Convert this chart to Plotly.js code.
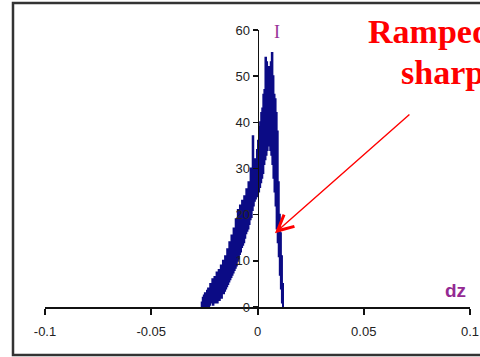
<!DOCTYPE html>
<html>
<head>
<meta charset="utf-8">
<script src="https://cdn.plot.ly/plotly-3.0.1.min.js"></script>
<style>html,body{margin:0;padding:0;background:#fff;}#chart{width:480px;height:357px;}</style>
</head>
<body>
<div id="chart"></div>
<script>
// dz positions of the measured profile
var dz = [
  -0.0265,-0.02625,-0.026,-0.02575,-0.0255,-0.02525,-0.025,-0.02475,-0.0245,-0.02425,
  -0.024,-0.02375,-0.0235,-0.02325,-0.023,-0.02275,-0.0225,-0.02225,-0.022,-0.02175,
  -0.0215,-0.02125,-0.021,-0.02075,-0.0205,-0.02025,-0.020,-0.01975,-0.0195,-0.01925,
  -0.019,-0.01875,-0.0185,-0.01825,-0.018,-0.01775,-0.0175,-0.01725,-0.017,-0.01675,
  -0.0165,-0.01625,-0.016,-0.01575,-0.0155,-0.01525,-0.015,-0.01475,-0.0145,-0.01425,
  -0.014,-0.01375,-0.0135,-0.01325,-0.013,-0.01275,-0.0125,-0.01225,-0.012,-0.01175,
  -0.0115,-0.01125,-0.011,-0.01075,-0.0105,-0.01025,-0.010,-0.00975,-0.0095,-0.00925,
  -0.009,-0.00875,-0.0085,-0.00825,-0.008,-0.00775,-0.0075,-0.00725,-0.007,-0.00675,
  -0.0065,-0.00625,-0.006,-0.00575,-0.0055,-0.00525,-0.005,-0.00475,-0.0045,-0.00425,
  -0.004,-0.00375,-0.0035,-0.00325,-0.003,-0.00275,-0.0025,-0.00225,-0.002,-0.00175,
  -0.0015,-0.00125,-0.001,-0.00075,-0.0005,-0.00025,0,0.00025,0.0005,0.00075,
  0.001,0.00125,0.0015,0.00175,0.002,0.00225,0.0025,0.00275,0.003,0.00325,
  0.0035,0.00375,0.004,0.00425,0.0045,0.00475,0.005,0.00525,0.0055,0.00575,
  0.006,0.00625,0.0065,0.00675,0.007,0.00725,0.0075,0.00775,0.008,0.00825,
  0.0085,0.00875,0.009,0.00925,0.0095,0.00975,0.010,0.01025,0.0105,0.01075,
  0.011,0.01125,0.0115,0.01175,0.012
];
// intensity I at each dz
var intensity = [
  0,1,0,2,0,2.5,0,3,0,2,
  0,3.5,0.5,4,0,3,0.5,5,1,4,
  1,6,0.5,5,1.5,6.5,1,6,1.5,7.5,
  1,7,2,8,1.5,7.5,2.5,9,2,8.5,
  3,10,3,9.5,3.5,11,4,10.5,4.5,12.5,
  5,12,5.5,14,6,13.5,6.5,15.5,7,15,
  7.5,17,8,16.5,8.5,19,9,18,10,21,
  10.5,20,11.5,22,12,21,13,23,13.5,22.5,
  14,24,15,23.5,16,25.5,16.5,25,17,27,
  18,26.5,19,30,19.5,29,21,37,22,31,
  23,32,23.5,31,24,34,24.5,36,25,39,
  26,40,27,42,28,43,29,46,31,47,
  32,54,33,53,34,50,35,52,35,51,
  34,53,33,55,31,50,28,46,25,45,
  22,42,17,38,14,27,11,20,7,16,
  4,11,1,5,0
];

var xTickVals = [-0.1,-0.05,0,0.05,0.1];
var xTickText = ['-0.1','-0.05','0','0.05','0.1'];
var yTickVals = [0,10,20,30,40,50,60];
var yTickText = ['0','10','20','30','40','50','60'];

var trace = {
  x: dz, y: intensity, type: 'scatter', mode: 'lines',
  line: {color: '#0b0b85', width: 2, shape: 'hv'},
  hoverinfo: 'skip', showlegend: false
};

var layout = {
  width: 480, height: 357,
  margin: {l: 45, r: 10, t: 30, b: 50},
  paper_bgcolor: '#ffffff', plot_bgcolor: '#ffffff',
  font: {family: 'Arial, "Liberation Sans", sans-serif', size: 12, color: '#222'},
  xaxis: {
    range: [-0.1, 0.1], showgrid: false, zeroline: false,
    showline: true, linecolor: '#111', linewidth: 2,
    ticks: 'outside', ticklen: 6, tickwidth: 2, tickcolor: '#111',
    tickvals: xTickVals, ticktext: xTickText, ticklabelstandoff: 5,
    tickfont: {size: 13},
    fixedrange: true
  },
  yaxis: {
    range: [0, 60], anchor: 'free', position: 0.5, side: 'left',
    showgrid: false, zeroline: false,
    showline: true, linecolor: '#111', linewidth: 1.5,
    ticks: 'outside', ticklen: 5, tickwidth: 1.5, tickcolor: '#111',
    tickvals: yTickVals, ticktext: yTickText, tickfont: {size: 13},
    fixedrange: true
  },
  shapes: [{
    type: 'rect', xref: 'paper', yref: 'paper',
    x0: -0.0753, x1: 1.2, y0: -0.1733, y1: 1.0975,
    line: {color: '#333', width: 2.5}, fillcolor: 'rgba(0,0,0,0)', layer: 'above'
  }],
  annotations: [
    {xref: 'paper', yref: 'paper', x: 0.545, y: 0.993, text: 'I', showarrow: false,
     font: {family: '"Liberation Serif", "Times New Roman", serif', size: 18, color: '#993399'},
     xanchor: 'center', yanchor: 'middle'},
    {xref: 'paper', yref: 'paper', x: 0.965, y: 0.06, text: '<b>dz</b>', showarrow: false,
     font: {family: 'Arial, "Liberation Sans", sans-serif', size: 19, color: '#942a93'},
     xanchor: 'center', yanchor: 'middle'},
    {xref: 'paper', yref: 'paper', x: 0.755, y: 0.993, text: '<b>Ramped</b>', showarrow: false,
     font: {family: '"Liberation Serif", "Times New Roman", serif', size: 34, color: '#ff0000'},
     xanchor: 'left', yanchor: 'middle'},
    {xref: 'paper', yref: 'paper', x: 0.833, y: 0.845, text: '<b>sharp</b>', showarrow: false,
     font: {family: '"Liberation Serif", "Times New Roman", serif', size: 34, color: '#ff0000'},
     xanchor: 'left', yanchor: 'middle'},
    {xref: 'x', yref: 'y', x: 0.0082, y: 16, text: '', showarrow: true,
     ax: 136, ay: -120, arrowhead: 5, arrowsize: 2.2, arrowwidth: 1.4, arrowcolor: '#ff0000'}
  ]
};

Plotly.newPlot('chart', [trace], layout, {staticPlot: true, displayModeBar: false});
</script>
</body>
</html>
